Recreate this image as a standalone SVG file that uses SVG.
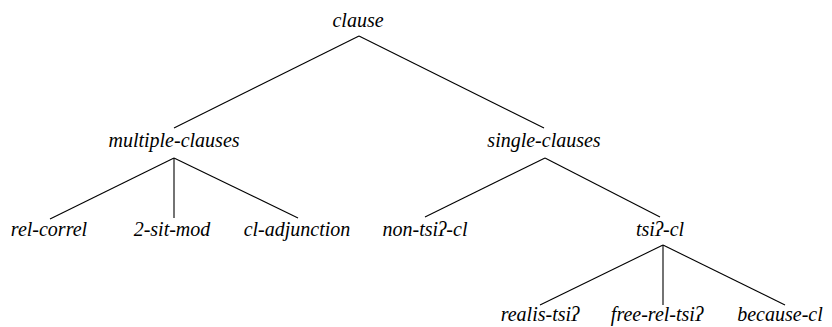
<svg xmlns="http://www.w3.org/2000/svg" width="832" height="327" viewBox="0 0 832 327">
<style>
text{font-family:"Liberation Serif","Times New Roman",serif;font-style:italic;font-size:20px;fill:#000;text-anchor:middle}
line{stroke:#000;stroke-width:1.1}
</style>
<rect width="832" height="327" fill="#fff"/>
<g id="connectors">
<line x1="359" y1="36" x2="174" y2="128"/>
<line x1="359" y1="36" x2="544" y2="128"/>
<line x1="174" y1="158" x2="50" y2="219"/>
<line x1="174" y1="158" x2="174" y2="218"/>
<line x1="174" y1="158" x2="298" y2="218"/>
<line x1="545" y1="158" x2="425" y2="217"/>
<line x1="545" y1="158" x2="660" y2="217"/>
<line x1="663" y1="245" x2="540" y2="305"/>
<line x1="663" y1="245" x2="663" y2="305"/>
<line x1="663" y1="245" x2="785" y2="305"/>
</g>
<g id="clause"><text x="358" y="27">clause</text></g>
<g id="multiple-clauses"><text x="174" y="147">multiple-clauses</text></g>
<g id="single-clauses"><text x="544" y="147">single-clauses</text></g>
<g id="rel-correl"><text x="49" y="236">rel-correl</text></g>
<g id="two-sit-mod"><text x="172" y="236">2-sit-mod</text></g>
<g id="cl-adjunction"><text x="297" y="236">cl-adjunction</text></g>
<g id="non-tsi-cl"><text x="425" y="236">non-tsiʔ-cl</text></g>
<g id="tsi-cl"><text x="660" y="236">tsiʔ-cl</text></g>
<g id="realis-tsi"><text x="540" y="321">realis-tsiʔ</text></g>
<g id="free-rel-tsi"><text x="657" y="321">free-rel-tsiʔ</text></g>
<g id="because-cl"><text x="780" y="321">because-cl</text></g>
</svg>
